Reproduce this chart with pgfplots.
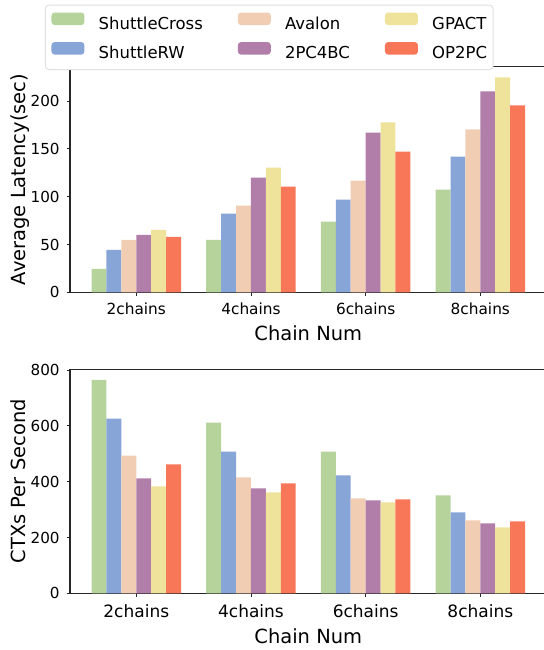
\documentclass[border=0pt]{standalone}
\usepackage{fontspec}
\setmainfont{DejaVu Sans}
\usepackage{pgfplots}
\usepackage{pgfplotstable}
\pgfplotsset{compat=1.18}

\definecolor{cSC}{HTML}{B5D39B}
\definecolor{cRW}{HTML}{88A5D8}
\definecolor{cAV}{HTML}{F1CEB3}
\definecolor{cPC}{HTML}{B17EAA}
\definecolor{cGP}{HTML}{EFE39C}
\definecolor{cOP}{HTML}{F77758}

\pgfplotstableread{
x SC RW AV PC GP OP
0 24.5 44.4 54.9 60.1 65.4 58.0
1 54.9 82.2 90.6 119.9 130.4 110.5
2 73.8 96.9 116.8 167.1 177.6 147.2
3 107.3 142.0 170.3 210.1 224.8 195.5
}\lat

\pgfplotstableread{
x SC RW AV PC GP OP
0 764.6 625.4 493.5 411.4 382.9 461.4
1 611.2 507.7 415.0 375.7 361.5 393.6
2 507.7 422.1 340.1 332.9 325.8 336.5
3 350.8 290.1 261.6 250.9 236.6 258.0
}\tps

\pgfplotsset{
  mybar/.style={
    scale only axis,
    width=357.45pt,
    xmin=-0.578, xmax=3.578, ymin=0,
    xtick={0,1,2,3},
    xticklabels={2chains,4chains,6chains,8chains},
    tick align=outside,
    tick pos=left,
    major tick length=2.6pt,
    every tick/.style={black!85, line width=0.6pt},
    axis line style={black!85, line width=0.75pt},
    ybar, bar width=0.13,
    /pgf/number format/assume math mode=true,
    scaled y ticks=false,
    yticklabel style={font=\fontsize{11.4}{13}\selectfont, anchor=east, inner sep=0pt, xshift=-5pt},
    ylabel style={font=\fontsize{14.6}{17}\selectfont, inner sep=0pt, text depth=3.45pt},
    ylabel shift=0.5pt,
    xlabel style={font=\fontsize{14.6}{17}\selectfont, at={(axis description cs:0.5,0)}, anchor=base},
  }
}

\begin{document}
\begin{tikzpicture}
\begin{axis}[mybar,
  at={(52.5pt,-219.2pt)}, anchor=south west,
  height=169.2pt,
  ymax=236,
  ytick={0,50,100,150,200},
  xticklabel style={font=\fontsize{11.5}{13}\selectfont, anchor=base, inner sep=0pt, yshift=-13.8pt},
  xlabel={Chain Num},
  xlabel style={yshift=-36.3pt},
  ylabel={Average Latency(sec)},
  legend columns=2,
  transpose legend,
  legend image code/.code={\fill[#1] (0pt,-0.25pt) rectangle (24.75pt,9.25pt);},
  legend style={at={(-0.0525,1.2748)}, anchor=north west,
    draw=black!12, line width=0.75pt, rounded corners=2.5pt, fill=white,
    inner xsep=4.5pt, inner ysep=5.5pt,
    font=\fontsize{12.35}{14}\selectfont,
    column sep=0pt, row sep=7pt,
    nodes={inner sep=0pt, text height=9.25pt, text depth=2.5pt},
    /tikz/every odd column/.append style={column sep=10.7pt},
    /tikz/every even column/.append style={column sep=26.25pt}},
  legend cell align=left,
]
\addplot[fill=cSC, draw=none, bar shift=-0.325] table[x=x,y=SC]{\lat};
\addplot[fill=cRW, draw=none, bar shift=-0.195] table[x=x,y=RW]{\lat};
\addplot[fill=cAV, draw=none, bar shift=-0.065] table[x=x,y=AV]{\lat};
\addplot[fill=cPC, draw=none, bar shift=0.065] table[x=x,y=PC]{\lat};
\addplot[fill=cGP, draw=none, bar shift=0.195] table[x=x,y=GP]{\lat};
\addplot[fill=cOP, draw=none, bar shift=0.325] table[x=x,y=OP]{\lat};
\legend{ShuttleCross,ShuttleRW,Avalon,2PC4BC,GPACT,OP2PC}
\end{axis}

\begin{axis}[mybar,
  at={(52.5pt,-445.0pt)}, anchor=south west,
  height=168.2pt,
  ymax=803,
  ytick={0,200,400,600,800},
  xticklabel style={font=\fontsize{12.75}{14}\selectfont, anchor=base, inner sep=0pt, yshift=-15.3pt},
  xlabel={Chain Num},
  xlabel style={yshift=-37.3pt},
  ylabel={CTXs Per Second},
]
\addplot[fill=cSC, draw=none, bar shift=-0.325] table[x=x,y=SC]{\tps};
\addplot[fill=cRW, draw=none, bar shift=-0.195] table[x=x,y=RW]{\tps};
\addplot[fill=cAV, draw=none, bar shift=-0.065] table[x=x,y=AV]{\tps};
\addplot[fill=cPC, draw=none, bar shift=0.065] table[x=x,y=PC]{\tps};
\addplot[fill=cGP, draw=none, bar shift=0.195] table[x=x,y=GP]{\tps};
\addplot[fill=cOP, draw=none, bar shift=0.325] table[x=x,y=OP]{\tps};
\end{axis}
\pgfresetboundingbox
\useasboundingbox (0pt,0pt) rectangle (407.25pt,-487.5pt);
\end{tikzpicture}
\end{document}
